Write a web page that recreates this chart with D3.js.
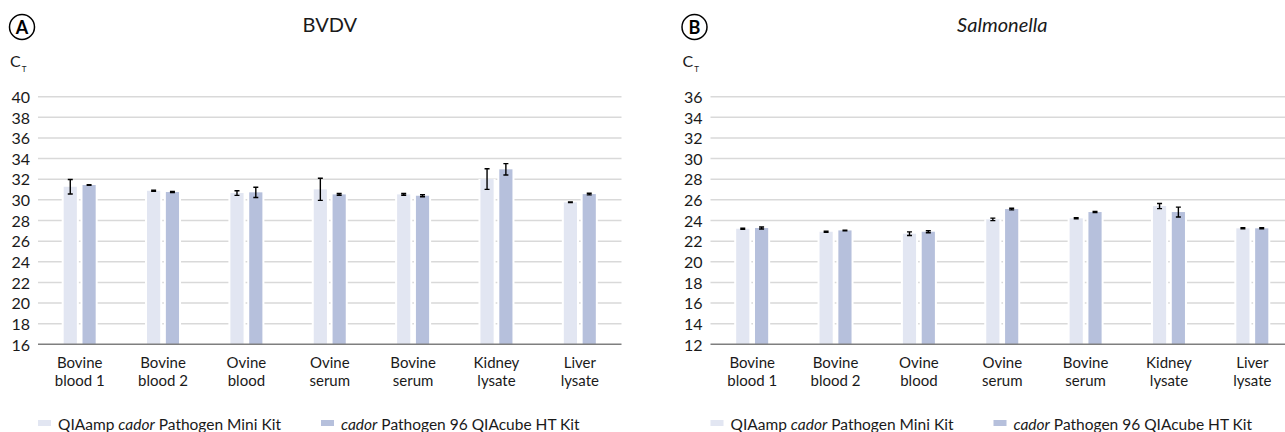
<!DOCTYPE html>
<meta charset="utf-8">
<style>

body {
  margin: 0;
  background: #fff;
}

text {
  font-family: "Lato", "Noto Sans", sans-serif;
  fill: #1a1a1a;
}

.grid line {
  stroke: #d9d9d9;
  stroke-width: 1.5px;
}

.baseline {
  stroke: #7f7f7f;
  stroke-width: 1.5px;
}

.err {
  stroke: #000;
  stroke-width: 1.4px;
  fill: none;
}

</style>
<body>
<script src="https://cdn.jsdelivr.net/npm/d3@7"></script>
<script>

var w = 1285,
    h = 432;

var categories = [
  ["Bovine", "blood 1"],
  ["Bovine", "blood 2"],
  ["Ovine", "blood"],
  ["Ovine", "serum"],
  ["Bovine", "serum"],
  ["Kidney", "lysate"],
  ["Liver", "lysate"]
];

var seriesNames = ["QIAamp cador Pathogen Mini Kit", "cador Pathogen 96 QIAcube HT Kit"],
    seriesColors = ["#e2e6f2", "#b6c0dc"];

var bvdvMini = [31.27, 30.88, 30.66, 31.02, 30.53, 32.02, 29.76],
    bvdvMiniErr = [0.7, 0.05, 0.22, 1.07, 0.08, 1.0, 0.03],
    bvdvHT = [31.44, 30.76, 30.73, 30.53, 30.40, 32.96, 30.56],
    bvdvHTErr = [0.04, 0.06, 0.5, 0.08, 0.1, 0.55, 0.08];

var salMini = [23.2, 22.91, 22.72, 24.11, 24.21, 25.40, 23.24],
    salMiniErr = [0.05, 0.05, 0.18, 0.12, 0.05, 0.25, 0.05],
    salHT = [23.27, 23.04, 22.91, 25.11, 24.82, 24.82, 23.24],
    salHTErr = [0.1, 0.03, 0.1, 0.08, 0.05, 0.48, 0.05];

var bvdvTicks = d3.range(16, 41, 2),
    salTicks = d3.range(12, 37, 2);

var panels = [
  {letter: "A", title: "BVDV", italic: false, left: 38, ticks: bvdvTicks,
   values: [bvdvMini, bvdvHT], errors: [bvdvMiniErr, bvdvHTErr]},
  {letter: "B", title: "Salmonella", italic: true, left: 710.5, ticks: salTicks,
   values: [salMini, salHT], errors: [salMiniErr, salHTErr]}
];

var plotW = 583.5,
    plotTop = 96.7,
    plotBottom = 344.3;

var svg = d3.select("body").append("svg")
    .attr("width", w)
    .attr("height", h);

panels.forEach(drawPanel);

function drawPanel(p) {
  var g = svg.append("g");

  var x0 = d3.scaleBand()
      .domain(d3.range(categories.length))
      .range([p.left, p.left + plotW]);

  var x1 = d3.scaleBand()
      .domain([0, 1])
      .range([0, 32])
      .paddingInner(0.3);

  var y = d3.scaleLinear()
      .domain([p.ticks[0], p.ticks[p.ticks.length - 1]])
      .range([plotBottom, plotTop]);

  // circled letter + title
  g.append("circle")
      .attr("cx", p.left - 16)
      .attr("cy", 27)
      .attr("r", 12.5)
      .attr("fill", "none")
      .attr("stroke", "#000")
      .attr("stroke-width", 1.5);

  g.append("text")
      .attr("x", p.left - 16)
      .attr("y", 33.5)
      .attr("text-anchor", "middle")
      .attr("font-weight", "bold")
      .attr("font-size", "18px")
      .style("fill", "#000")
      .text(p.letter);

  g.append("text")
      .attr("x", p.left + plotW / 2)
      .attr("y", 32)
      .attr("text-anchor", "middle")
      .attr("font-size", "20px")
      .attr("font-style", p.italic ? "italic" : null)
      .text(p.title);

  var ct = g.append("text")
      .attr("x", p.left - 28)
      .attr("y", 67)
      .attr("font-size", "16px")
      .text("C");
  ct.append("tspan")
      .attr("font-size", "8px")
      .attr("dx", 1)
      .attr("dy", 5)
      .text("T");

  // y axis
  var yAxis = d3.axisLeft(y)
      .tickValues(p.ticks)
      .tickSize(0)
      .tickPadding(8)
      .tickFormat(d3.format("d"));

  var ax = g.append("g")
      .attr("transform", "translate(" + p.left + ",0)")
      .call(yAxis);
  ax.select(".domain").remove();
  ax.attr("font-family", null).attr("font-size", null);
  ax.selectAll("text")
      .attr("font-size", "16px")
      .attr("dy", "0.36em");

  g.append("g")
      .attr("class", "grid")
    .selectAll("line")
      .data(p.ticks.slice(1))
    .enter().append("line")
      .attr("x1", p.left)
      .attr("x2", p.left + plotW)
      .attr("y1", y)
      .attr("y2", y);

  // bars
  var off = x0.bandwidth() / 2 - 16;

  p.values.forEach(function(vals, s) {
    var sg = g.append("g");
    sg.selectAll(".pad")
        .data(vals)
      .enter().append("rect")
        .attr("x", function(d, i) { return x0(i) + off + x1(s) - 2; })
        .attr("width", x1.bandwidth() + 4)
        .attr("y", function(d) { return y(d); })
        .attr("height", function(d) { return plotBottom - y(d); })
        .attr("fill", "#fff");
    sg.selectAll(".bar")
        .data(vals)
      .enter().append("rect")
        .attr("x", function(d, i) { return x0(i) + off + x1(s); })
        .attr("width", x1.bandwidth())
        .attr("y", function(d) { return y(d); })
        .attr("height", function(d) { return plotBottom - y(d); })
        .attr("fill", seriesColors[s]);
  });

  // error bars
  p.values.forEach(function(vals, s) {
    var errs = p.errors[s];
    g.selectAll(null)
        .data(vals)
      .enter().append("path")
        .attr("class", "err")
        .attr("d", function(d, i) {
          var cx = x0(i) + off + x1(s) + x1.bandwidth() / 2,
              y1 = y(d + errs[i]),
              y2 = y(d - errs[i]);
          return "M" + (cx - 2.5) + "," + y1 + "H" + (cx + 2.5) +
              "M" + cx + "," + y1 + "V" + y2 +
              "M" + (cx - 2.5) + "," + y2 + "H" + (cx + 2.5);
        });
  });

  g.append("line")
      .attr("class", "baseline")
      .attr("x1", p.left)
      .attr("x2", p.left + plotW)
      .attr("y1", plotBottom)
      .attr("y2", plotBottom);

  // category labels
  var lab = g.selectAll(".cat")
      .data(categories)
    .enter().append("text")
      .attr("text-anchor", "middle")
      .attr("font-size", "15px")
      .attr("transform", function(d, i) { return "translate(" + (x0(i) + x0.bandwidth() / 2) + ",368)"; });
  lab.append("tspan")
      .attr("x", 0)
      .text(function(d) { return d[0]; });
  lab.append("tspan")
      .attr("x", 0)
      .attr("dy", 18)
      .text(function(d) { return d[1]; });

  // legend
  var leg = g.selectAll(".leg")
      .data(seriesNames)
    .enter().append("g")
      .attr("transform", function(d, i) { return "translate(" + (p.left + i * 283) + ",0)"; });
  leg.append("rect")
      .attr("y", 420)
      .attr("width", 13)
      .attr("height", 6)
      .attr("fill", function(d, i) { return seriesColors[i]; });
  leg.append("text")
      .attr("x", 20)
      .attr("y", 430)
      .attr("font-size", "15.5px")
      .each(function(d) {
        var t = d3.select(this),
            parts = d.split("cador");
        t.append("tspan").text(parts[0]);
        t.append("tspan").attr("font-style", "italic").text("cador");
        t.append("tspan").text(parts[1]);
      });
}

</script>
</body>
